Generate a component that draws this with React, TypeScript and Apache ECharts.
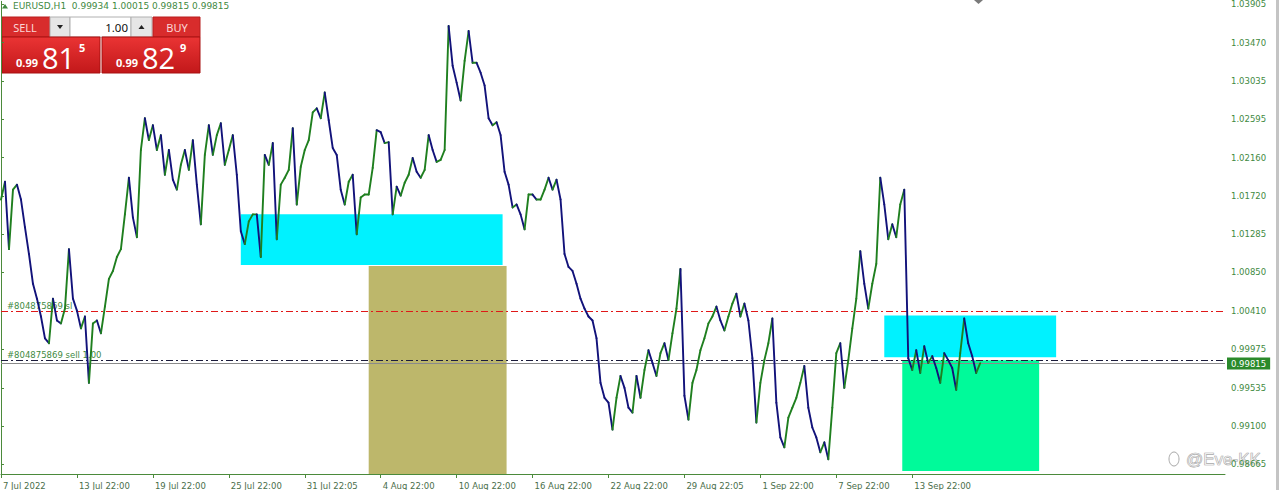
import React, { useEffect, useRef } from 'react';
import * as echarts from 'echarts';

// H1 close path, sampled every 4 bars (EURUSD)
const closes = [
  1.01681, 1.01884, 1.01116, 1.01794, 1.01851, 1.01681, 1.01365, 1.01060, 1.00721, 1.00551,
  1.00348, 1.00099, 1.00043, 1.00551, 1.00302, 1.00269, 1.00438, 1.01116, 1.00551, 1.00415,
  1.00212, 1.00348, 0.99591, 1.00269, 1.00302, 1.00156, 1.00461, 1.00777, 1.00867, 1.01026,
  1.01116, 1.01512, 1.01930, 1.01478, 1.01252, 1.02246, 1.02608, 1.02359, 1.02529, 1.02246,
  1.02416, 1.01964, 1.02246, 1.01907, 1.01794, 1.02077, 1.02246, 1.02020, 1.02359, 1.01851,
  1.01399, 1.02190, 1.02529, 1.02190, 1.02416, 1.02551, 1.02077, 1.02246, 1.02416, 1.01964,
  1.01319, 1.01173, 1.01432, 1.01512, 1.01512, 1.01026, 1.02190, 1.02077, 1.02325, 1.01229,
  1.01851, 1.01930, 1.02020, 1.02495, 1.01625, 1.02054, 1.02246, 1.02359, 1.02675, 1.02721,
  1.02608, 1.02901, 1.02585, 1.02269, 1.02190, 1.01794, 1.01625, 1.01884, 1.01964, 1.01286,
  1.01704, 1.01738, 1.01738, 1.02043, 1.02472, 1.02449, 1.02325, 1.02336, 1.01512, 1.01828,
  1.01726, 1.01873, 1.01964, 1.02156, 1.01997, 1.01930, 1.02020, 1.02416, 1.02246, 1.02110,
  1.02133, 1.02246, 1.03659, 1.03207, 1.03014, 1.02811, 1.03263, 1.03602, 1.03240, 1.03240,
  1.03127, 1.02981, 1.02608, 1.02529, 1.02562, 1.02416, 1.01997, 1.01851, 1.01591, 1.01625,
  1.01512, 1.01342, 1.01738, 1.01738, 1.01681, 1.01681, 1.01794, 1.01930, 1.01794, 1.01907,
  1.01681, 1.01060, 1.00913, 1.00867, 1.00721, 1.00551, 1.00438, 1.00348, 1.00302, 1.00099,
  0.99591, 0.99421, 0.99365, 0.99059, 0.99421, 0.99670, 0.99534, 0.99308, 0.99252, 0.99670,
  0.99421, 0.99737, 0.99963, 0.99817, 0.99670, 0.99930, 1.00043, 0.99850, 1.00156, 1.00438,
  1.00890, 0.99444, 0.99172, 0.99591, 0.99737, 0.99963, 1.00099, 1.00269, 1.00348, 1.00461,
  1.00302, 1.00189, 1.00348, 1.00495, 1.00608, 1.00348, 1.00495, 1.00302, 0.99873, 0.99139,
  0.99591, 0.99850, 1.00043, 1.00325, 0.99365, 0.98969, 0.98856, 0.99195, 0.99308, 0.99421,
  0.99591, 0.99783, 0.99308, 0.99082, 0.98969, 0.98800, 0.98913, 0.98720, 0.99308, 0.99930,
  1.00043, 0.99534, 0.99850, 1.00212, 1.00551, 1.01093, 1.00721, 1.00438, 1.00721, 1.00947,
  1.01930, 1.01625, 1.01229, 1.01399, 1.01252, 1.01625, 1.01794, 0.99873, 0.99737, 0.99963,
  0.99704, 1.00009, 0.99817, 0.99896, 0.99760, 0.99591, 0.99930, 0.99850, 0.99760, 0.99511,
  0.99930, 1.00325, 1.00043, 0.99896, 0.99704, 0.99815,
];

const xLabels = [
  '7 Jul 2022', '13 Jul 22:00', '19 Jul 22:00', '25 Jul 22:00', '31 Jul 22:05', '4 Aug 22:00',
  '10 Aug 22:00', '16 Aug 22:00', '22 Aug 22:00', '29 Aug 22:05', '1 Sep 22:00', '7 Sep 22:00',
  '13 Sep 22:00',
];
const xLabelStep = 19;
const xTickValues = xLabels.map((_, i) => i * xLabelStep);

const priceTicks = [
  1.03905, 1.0347, 1.03035, 1.02595, 1.0216, 1.0172, 1.01285, 1.0085, 1.0041, 0.99975, 0.99535,
  0.991, 0.98665,
];
const priceMin = 0.98552;
const priceMax = 1.03941;
const barsMax = 306.25;

// horizontal price lines: stop loss, order open, current bid
const levelPrices = [1.00405, 0.99851, 0.99815];
const levelLabels = ['#804875869 sl', '#804875869 sell 1.00', ''];

// rectangle objects: [start bar, end bar, top price, bottom price]
const zoneStart = [60, 92, 221, 225.5];
const zoneEnd = [125.5, 126.5, 264, 259.75];
const zoneTop = [1.01512, 1.00924, 1.00359, 0.9985];
const zoneBottom = [1.00935, 0.98552, 0.99884, 0.98585];
const zoneColors = ['#00F2FF', '#BDB76B', '#00F2FF', '#00FA9A'];

const header = 'EURUSD,H1  0.99934 1.00015 0.99815 0.99815';

const AXIS = '#4b8a3b';
const TXT = '#3f8a3f';
const UP = '#1f7f1f';
const DOWN = '#12127a';
const FONT = 'DejaVu Sans';
const levelColors = ['#e01818', '#1c1c3c', '#8a8a8a'];
const levelDash: any[] = [[7, 3, 2, 3], [7, 3, 2, 3], null];

export default function App() {
  const ref = useRef<HTMLDivElement>(null);
  useEffect(() => {
    document.body.style.margin = '0';
    if (!ref.current) return;
    const chart = echarts.init(ref.current, undefined, { renderer: 'svg' });
    const redGrad = () =>
      new echarts.graphic.LinearGradient(0, 0, 0, 1, [
        { offset: 0, color: '#ea3434' },
        { offset: 1, color: '#c2181a' },
      ]);
    const option: any = {
      animation: false,
      grid: { left: 0, right: 55, top: 0, bottom: 13, containLabel: false },
      xAxis: {
        type: 'value',
        min: 0,
        max: barsMax,
        interval: xLabelStep,
        axisLine: { show: true, lineStyle: { color: AXIS, width: 1 } },
        axisTick: { show: true, customValues: xTickValues, length: 4, lineStyle: { color: AXIS } },
        axisLabel: {
          customValues: xTickValues,
          formatter: (v: number) => xLabels[Math.round(v / xLabelStep)] ?? '',
          align: 'left',
          margin: 7,
          padding: [0, 0, 0, 2],
          color: '#4a6e4a',
          fontSize: 8.5,
          fontFamily: FONT,
          showMinLabel: true,
        },
        splitLine: { show: false },
      },
      yAxis: {
        type: 'value',
        position: 'right',
        min: priceMin,
        max: priceMax,
        scale: true,
        axisLine: { show: true, lineStyle: { color: AXIS, width: 1 } },
        axisTick: { show: true, customValues: priceTicks, length: 3, lineStyle: { color: AXIS } },
        axisLabel: {
          customValues: priceTicks,
          formatter: (v: number) => v.toFixed(5),
          margin: 6,
          color: TXT,
          fontSize: 8.5,
          fontFamily: FONT,
        },
        splitLine: { show: false },
      },
      series: [
        {
          type: 'line',
          data: closes.map((c, i) => [i, c]),
          symbol: 'none',
          silent: true,
          lineStyle: { opacity: 0 },
          z: 1,
          markArea: {
            silent: true,
            data: zoneStart.map((s, i) => [
              { xAxis: s, yAxis: zoneTop[i], itemStyle: { color: zoneColors[i], opacity: 1 } },
              { xAxis: zoneEnd[i], yAxis: zoneBottom[i] },
            ]),
          },
        },
        {
          type: 'custom',
          z: 2,
          silent: true,
          clip: false,
          data: levelPrices.map((p) => [0, p]),
          encode: { x: 0, y: 1 },
          renderItem: (params: any, api: any) => {
            const k = params.dataIndex;
            const cs = params.coordSys;
            const price = api.value(1);
            const y = Math.round(api.coord([0, price])[1]) + 0.5;
            const children: any[] = [
              {
                type: 'line',
                shape: { x1: cs.x, y1: y, x2: cs.x + cs.width, y2: y },
                style: { stroke: levelColors[k], lineWidth: 1, lineDash: levelDash[k] },
              },
            ];
            if (levelLabels[k]) {
              children.push({
                type: 'text',
                x: cs.x + 6,
                y: y - 1,
                style: {
                  text: levelLabels[k], fill: TXT, fontSize: 8.5, fontFamily: FONT,
                  verticalAlign: 'bottom',
                },
              });
            } else {
              children.push({
                type: 'text',
                x: cs.x + cs.width + 2,
                y,
                style: {
                  text: price.toFixed(5), fill: '#ffffff', backgroundColor: '#2b8a2b',
                  padding: [2, 4, 1, 4], fontSize: 8.5, fontFamily: FONT, verticalAlign: 'middle',
                },
              });
            }
            return { type: 'group', children };
          },
        },
        {
          type: 'custom',
          z: 3,
          silent: true,
          data: closes.map((c, i) => [i, c, i > 0 ? closes[i - 1] : c]),
          encode: { x: 0, y: 1 },
          renderItem: (params: any, api: any) => {
            const i = api.value(0);
            if (i === 0) return null;
            const c = api.value(1);
            const o = api.value(2);
            const a = api.coord([i - 1, o]);
            const b = api.coord([i, c]);
            return {
              type: 'line',
              shape: { x1: a[0], y1: a[1], x2: b[0], y2: b[1] },
              style: { stroke: c >= o ? UP : DOWN, lineWidth: 1.9, lineCap: 'round' },
            };
          },
        },
      ],
      graphic: [
        { type: 'rect', shape: { x: 1276, y: 0, width: 3, height: 490 }, style: { fill: '#c4c4c4' } },
        { type: 'polygon', shape: { points: [[974, 0], [983, 0], [978.5, 4]] }, style: { fill: '#7a7a7a' } },
        { type: 'polygon', shape: { points: [[2, 8.5], [5, 4], [8, 8.5]] }, style: { fill: TXT } },
        {
          type: 'text',
          x: 13,
          y: 6,
          style: { text: header, fill: TXT, fontSize: 9, fontFamily: FONT, verticalAlign: 'middle' },
        },
        // one-click trading panel
        { type: 'rect', shape: { x: 2, y: 17, width: 48, height: 20 }, style: { fill: '#d82c2c', stroke: '#b81e1e' } },
        {
          type: 'text', x: 25, y: 27,
          style: { text: 'SELL', fill: '#fbd6d6', fontSize: 11, fontFamily: 'Noto Sans', align: 'center', verticalAlign: 'middle' },
        },
        { type: 'rect', shape: { x: 50, y: 17, width: 20, height: 20 }, style: { fill: '#e6e6e6', stroke: '#b0b0b0' } },
        { type: 'polygon', shape: { points: [[57, 25], [63, 25], [60, 29]] }, style: { fill: '#222' } },
        { type: 'rect', shape: { x: 70, y: 17, width: 61, height: 20 }, style: { fill: '#ffffff', stroke: '#b0b0b0' } },
        {
          type: 'text', x: 128, y: 27,
          style: { text: '1.00', fill: '#111', fontSize: 11.5, fontFamily: 'Noto Sans', align: 'right', verticalAlign: 'middle' },
        },
        { type: 'rect', shape: { x: 131, y: 17, width: 21, height: 20 }, style: { fill: '#e6e6e6', stroke: '#b0b0b0' } },
        { type: 'polygon', shape: { points: [[138.5, 29], [144.5, 29], [141.5, 25]] }, style: { fill: '#222' } },
        { type: 'rect', shape: { x: 153, y: 17, width: 47, height: 20 }, style: { fill: '#d82c2c', stroke: '#b81e1e' } },
        {
          type: 'text', x: 177, y: 27,
          style: { text: 'BUY', fill: '#fbd6d6', fontSize: 11, fontFamily: 'Noto Sans', align: 'center', verticalAlign: 'middle' },
        },
        { type: 'rect', shape: { x: 2, y: 37, width: 98, height: 36 }, style: { fill: redGrad(), stroke: '#a81010' } },
        { type: 'rect', shape: { x: 102, y: 37, width: 98, height: 36 }, style: { fill: redGrad(), stroke: '#a81010' } },
        {
          type: 'text', x: 16, y: 62,
          style: { text: '0.99', fill: '#fff', fontSize: 11, fontWeight: 'bold', fontFamily: 'Noto Sans', verticalAlign: 'middle' },
        },
        {
          type: 'text', x: 42, y: 57,
          style: { text: '81', fill: '#fff', fontSize: 29, fontFamily: 'Open Sans', verticalAlign: 'middle' },
        },
        {
          type: 'text', x: 79, y: 47,
          style: { text: '5', fill: '#fff', fontSize: 11, fontWeight: 'bold', fontFamily: 'Noto Sans', verticalAlign: 'middle' },
        },
        {
          type: 'text', x: 116, y: 62,
          style: { text: '0.99', fill: '#fff', fontSize: 11, fontWeight: 'bold', fontFamily: 'Noto Sans', verticalAlign: 'middle' },
        },
        {
          type: 'text', x: 142, y: 57,
          style: { text: '82', fill: '#fff', fontSize: 29, fontFamily: 'Open Sans', verticalAlign: 'middle' },
        },
        {
          type: 'text', x: 180, y: 47,
          style: { text: '9', fill: '#fff', fontSize: 11, fontWeight: 'bold', fontFamily: 'Noto Sans', verticalAlign: 'middle' },
        },
        // watermark
        { type: 'ellipse', shape: { cx: 1174, cy: 459, rx: 5, ry: 7 }, style: { fill: 'none', stroke: '#a8a8a8', lineWidth: 1 } },
        {
          type: 'text', x: 1186, y: 459,
          style: {
            text: '@Eve-KK', fill: 'rgba(255,255,255,0.4)', stroke: '#9c9c9c', lineWidth: 0.7,
            fontSize: 17, fontFamily: 'Liberation Sans', verticalAlign: 'middle',
          },
        },
      ],
    };
    chart.setOption(option);
    return () => chart.dispose();
  }, []);
  return <div ref={ref} style={{ width: 1280, height: 490 }} />;
}
